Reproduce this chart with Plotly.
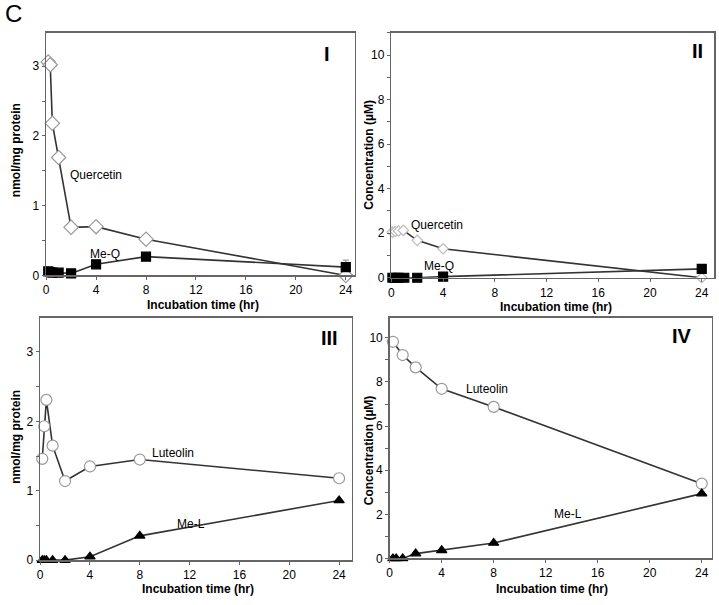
import plotly.graph_objects as go

W, H = 719, 605

# ---------------- data ----------------
# Panel I (cells, nmol/mg protein)
t_q1 = [0.17, 0.33, 0.5, 1, 2, 4, 8, 24]
quercetin_1 = [3.06, 3.02, 2.18, 1.69, 0.69, 0.70, 0.52, 0.0]
t_mq1 = [0.17, 0.33, 0.5, 1, 2, 4, 8, 24]
meq_1 = [0.06, 0.05, 0.04, 0.04, 0.03, 0.16, 0.27, 0.12]
meq_1_err = [0, 0, 0, 0, 0, 0, 0, 0.1]

# Panel II (medium, µM)
t_q2 = [0.08, 0.3, 0.55, 0.92, 2, 4, 24]
quercetin_2 = [2.05, 2.08, 2.1, 2.13, 1.68, 1.3, 0.0]
t_mq2 = [0.08, 0.3, 0.55, 1, 2, 4, 24]
meq_2 = [0.0, 0.0, 0.0, 0.0, 0.0, 0.05, 0.4]

# Panel III (cells, nmol/mg protein)
t_l3 = [0.17, 0.33, 0.5, 1, 2, 4, 8, 24]
luteolin_3 = [1.46, 1.93, 2.31, 1.65, 1.14, 1.35, 1.45, 1.18]
t_ml3 = [0.17, 0.33, 0.5, 1, 2, 4, 8, 24]
mel_3 = [0.0, 0.0, 0.0, 0.0, 0.0, 0.05, 0.35, 0.86]

# Panel IV (medium, µM)
t_l4 = [0.25, 1, 2, 4, 8, 24]
luteolin_4 = [9.82, 9.22, 8.66, 7.69, 6.87, 3.39]
t_ml4 = [0.25, 0.5, 1, 2, 4, 8, 24]
mel_4 = [0.0, 0.0, 0.0, 0.22, 0.37, 0.7, 2.94]

x_ticks = [0, 4, 8, 12, 16, 20, 24]

# ---------------- helpers ----------------
def px_x(x):
    return x / W

def px_y(y):
    return 1 - y / H

LINE = "#333333"
FRAME = "#666666"
FONT = "Liberation Sans, Arial, sans-serif"

fig = go.Figure()

def add_line(x, y, xa, ya, symbol, size, fill, outline, name, err=None, lw=1.6):
    tr = go.Scatter(
        x=x, y=y, xaxis=xa, yaxis=ya, mode="lines+markers", name=name,
        line=dict(color=LINE, width=lw),
        marker=dict(symbol=symbol, size=size, color=fill,
                    line=dict(color=outline, width=1.2)),
        showlegend=False, cliponaxis=False,
    )
    if err is not None:
        tr.error_y = dict(type="data", array=err, arrayminus=[0] * len(err),
                          symmetric=False, color="#888888", thickness=1, width=3)
    fig.add_trace(tr)

# Panel I
add_line(t_q1, quercetin_1, "x", "y", "diamond", 11, "white", "#999999", "Quercetin")
add_line(t_mq1, meq_1, "x", "y", "square", 9, "black", "black", "Me-Q", err=meq_1_err)
# Panel II
add_line(t_q2, quercetin_2, "x2", "y2", "diamond", 8, "white", "#bbbbbb", "Quercetin")
add_line(t_mq2, meq_2, "x2", "y2", "square", 9, "black", "black", "Me-Q")
# Panel III
add_line(t_l3, luteolin_3, "x3", "y3", "circle", 11, "white", "#999999", "Luteolin")
add_line(t_ml3, mel_3, "x3", "y3", "triangle-up", 9, "black", "black", "Me-L")
# Panel IV
add_line(t_l4, luteolin_4, "x4", "y4", "circle", 11, "white", "#999999", "Luteolin")
add_line(t_ml4, mel_4, "x4", "y4", "triangle-up", 9, "black", "black", "Me-L")

def xaxis(domain, rng, anchor):
    return dict(domain=domain, range=rng, anchor=anchor, tickvals=x_ticks,
                showgrid=False, zeroline=False, showline=True, mirror=True,
                linecolor=FRAME, linewidth=1.5, ticks="outside", ticklen=3,
                tickcolor=FRAME, tickfont=dict(size=12, color="black", family=FONT))

def yaxis(domain, rng, anchor, dtick, minor):
    return dict(domain=domain, range=rng, anchor=anchor, dtick=dtick, tick0=0,
                showgrid=False, zeroline=False, showline=True, mirror=True,
                linecolor=FRAME, linewidth=1.5, ticks="outside", ticklen=3,
                tickcolor=FRAME, tickfont=dict(size=12, color="black", family=FONT),
                minor=dict(dtick=minor, tick0=0, ticks="outside", ticklen=3,
                           tickcolor=FRAME, showgrid=False))

fig.update_layout(
    width=W, height=H, margin=dict(l=0, r=0, t=0, b=0),
    paper_bgcolor="white", plot_bgcolor="white",
    font=dict(family=FONT, color="black"),
    hovermode=False,
    xaxis=xaxis([px_x(43.3), px_x(353)], [0, 24.7], "y"),
    yaxis=yaxis([px_y(278.7), px_y(33)], [0, 3.48], "x", 1, 0.5),
    xaxis2=xaxis([px_x(390), px_x(714)], [0, 24.95], "y2"),
    yaxis2=yaxis([px_y(281), px_y(33.3)], [0, 11.0], "x2", 2, 1),
    xaxis3=xaxis([px_x(37.3), px_x(350)], [0, 25.0], "y3"),
    yaxis3=yaxis([px_y(566.7), px_y(321.7)], [0, 3.49], "x3", 1, 0.5),
    xaxis4=xaxis([px_x(388.3), px_x(711.7)], [0, 24.77], "y4"),
    yaxis4=yaxis([px_y(565), px_y(321.7)], [0, 10.9], "x4", 2, 1),
)

ann = []
def label(text, x, y, size=12, bold=False, angle=0):
    t = f"<b>{text}</b>" if bold else text
    ann.append(dict(text=t, x=px_x(x), y=px_y(y), xref="paper", yref="paper",
                    showarrow=False, textangle=angle, xanchor="center", yanchor="middle",
                    font=dict(size=size, family=FONT, color="black")))

# Panel letter
label("C", 11, 14, size=24)
# Axis titles
label("nmol/mg protein", 13, 152, bold=True, angle=-90)
label("Concentration (µM)", 368, 156, bold=True, angle=-90)
label("nmol/mg protein", 13, 442, bold=True, angle=-90)
label("Concentration (µM)", 367, 455, bold=True, angle=-90)
label("Incubation time (hr)", 201, 308.5, bold=True)
label("Incubation time (hr)", 555, 310.5, bold=True)
label("Incubation time (hr)", 196, 595.5, bold=True)
label("Incubation time (hr)", 551, 595.5, bold=True)
# Panel numerals
label("I", 325, 55, size=20, bold=True)
label("II", 697, 52, size=20, bold=True)
label("III", 328, 342, size=20, bold=True)
label("IV", 682, 340, size=20, bold=True)
# Series labels
label("Quercetin", 93, 177)
label("Me-Q", 102, 257)
label("Quercetin", 436, 228)
label("Me-Q", 438, 269)
label("Luteolin", 171, 458)
label("Me-L", 189, 530)
label("Luteolin", 486, 394)
label("Me-L", 567, 520)

fig.update_layout(annotations=ann)

fig.write_html(
    "out.html",
    config={"displayModeBar": False, "staticPlot": True},
    post_script="document.body.style.margin='0';document.body.style.overflow='hidden';",
)
